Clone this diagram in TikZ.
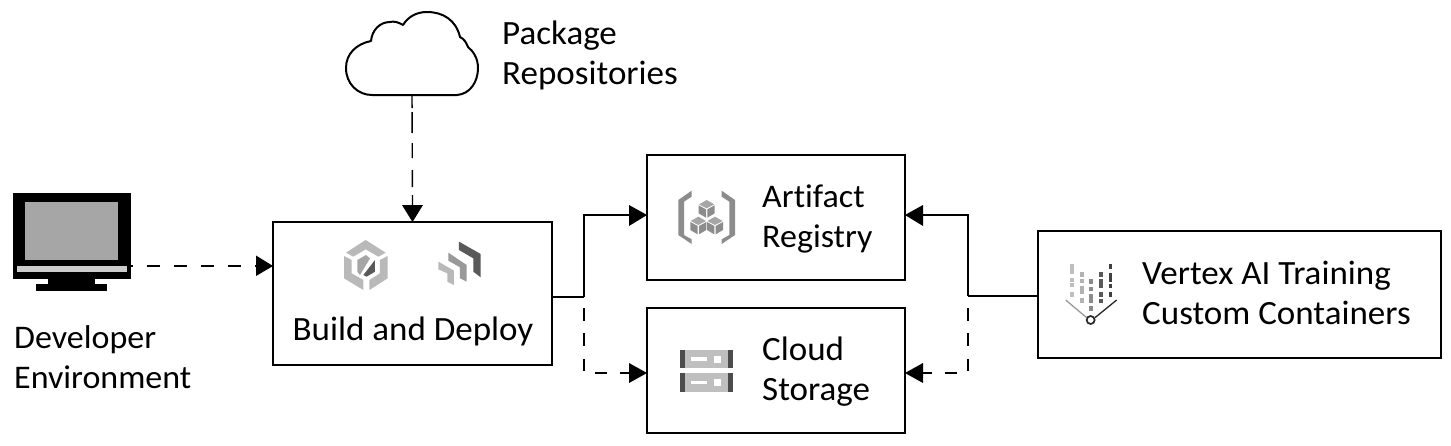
\documentclass[tikz,border=0pt]{standalone}
\usepackage{fontspec}
\setmainfont[Ligatures=NoCommon,FakeStretch=1.03]{Carlito}
\usetikzlibrary{arrows.meta}
\tikzset{
  x=1pt,y=-1pt,
  boxnode/.style={draw=black,line width=1.8pt,fill=white,minimum width=#1,inner sep=0pt},
  lab/.style={inner sep=0pt,align=left,anchor=west,font=\fontsize{34}{40}\selectfont},
  labsmall/.style={lab,font=\fontsize{33}{40}\selectfont},
  solidline/.style={line width=1.8pt},
  headfill/.style={fill=black},
  elbowdash/.style={line width=2pt,dash pattern=on 13pt off 12pt on 13pt off 13pt on 12pt off 13pt on 12pt off 13pt on 12pt},
  zoomed/.style={x=0.3333pt,y=-0.3333pt},
}
\begin{document}
\begin{tikzpicture}
\useasboundingbox (0,0) rectangle (1451,445);
% boxes
\node[boxnode=279pt,minimum height=143pt] (build) at (412.5,293.5) {};
\node[boxnode=258pt,minimum height=125pt] (artifact) at (776,217.5) {};
\node[boxnode=258pt,minimum height=125pt] (storage) at (776,370.5) {};
\node[boxnode=403pt,minimum height=127pt] (vertex) at (1239.5,294.5) {};
% cloud
\draw[line width=2pt,fill=white,line join=round] (372,95) -- (457,95)
  .. controls (470,94) and (478,82) .. (478,68)
  .. controls (478,58) and (473,51) .. (468,47)
  .. controls (466,42) and (464,39) .. (460,37)
  .. controls (456,20) and (443,12) .. (427,12)
  .. controls (416,12) and (408,17) .. (403,25)
  .. controls (398,22) and (394,21) .. (390,22)
  .. controls (380,22) and (372,30) .. (371,41)
  .. controls (356,44) and (346,54) .. (346,68)
  .. controls (346,84) and (358,95) .. (372,95) -- cycle;
\coordinate (cloudb) at (412,95);
% monitor
\fill[black] (13,193) rectangle (131,279);
\fill[black] (48,279) rectangle (95,285);
\fill[black] (36,284) rectangle (107,291);
\fill[gray!70!white] (25,202) rectangle (118,260);
\fill[gray!40!white] (17,266) rectangle (127,272);
\coordinate (mon) at (131,266);
% connector ends
\coordinate (bo) at (553,297);
\coordinate (vo) at (1038,296);
\coordinate (bt) at (412.5,222);
\coordinate (bl) at (273,266);
\coordinate (ai) at (647,215);
\coordinate (si) at (647,373);
\coordinate (ar) at (905,215);
\coordinate (sr) at (905,373);
\coordinate (le) at (584,297);
\coordinate (re) at (968,296);
\coordinate (lds) at (584,308);
\coordinate (rds) at (968,308);
% connectors
\draw[line width=1.4pt,dash pattern=on 13pt off 4pt on 21pt off 10pt on 15pt off 12pt on 17pt off 8pt on 10pt] (cloudb) -- (412.5,206);
\fill[headfill] (bt) -- (402,205) -- (423,205) -- cycle;
\draw[line width=2pt,dash pattern=on 13pt off 14pt,dash phase=11pt] (mon) -- (256,266);
\fill[headfill] (bl) -- (256,255.5) -- (256,276) -- cycle;
\draw[line width=1.4pt] (bo) -- (le);
\draw[solidline,line join=miter] (le) -- (584,215) -- (630,215);
\fill[headfill] (ai) -- (629,205) -- (629,226) -- cycle;
\draw[line width=1.4pt] (vo) -- (re);
\draw[solidline,line join=miter] (re) -- (968,215) -- (922,215);
\fill[headfill] (ar) -- (923,205) -- (923,226) -- cycle;
\draw[elbowdash] (lds) -- (584,373) -- (630,373);
\fill[headfill] (si) -- (629,363) -- (629,383) -- cycle;
\draw[elbowdash] (rds) -- (968,373) -- (922,373);
\fill[headfill] (sr) -- (923,363) -- (923,383) -- cycle;
% labels
\node[lab] (lrep) at (502,55) {Package\\Repositories};
\node[labsmall] (ldev) at (14,357) {Developer\\Environment};
\node[lab,anchor=center] (lbuild) at (413,331) {Build and Deploy};
\node[labsmall] (lart) at (762,219) {Artifact\\Registry};
\node[lab] (lsto) at (762,372) {Cloud\\Storage};
\node[lab] (lver) at (1142,293) {Vertex AI Training\\Custom Containers};
% build icons
\begin{scope}[shift={(320,230)},zoomed]
 \fill[gray!55!white] (137,30) -- (197,68) -- (175,80) -- (137,58) -- (100,80) -- (78,68) -- cycle;
 \fill[gray!55!white] (72,78) -- (95,90) -- (95,130) -- (130,150) -- (130,180) -- (72,145) -- cycle;
 \fill[gray!55!white] (203,78) -- (203,145) -- (148,180) -- (148,150) -- (180,130) -- (180,90) -- cycle;
 \fill[gray!70!white] (138,75) -- (150,85) -- (120,135) -- (112,125) -- (112,90) -- cycle;
 \fill[gray!70!black] (165,90) -- (165,125) -- (140,140) -- (130,135) -- cycle;
 \fill[gray!55!white] (355,95) -- (402,122) -- (402,165) -- (382,155) -- (382,130) -- (355,118) -- cycle;
 \fill[gray!80!white] (385,68) -- (440,105) -- (440,155) -- (420,145) -- (420,112) -- (385,92) -- cycle;
 \fill[gray!70!black] (417,35) -- (482,72) -- (482,142) -- (460,125) -- (460,85) -- (417,60) -- cycle;
\end{scope}
% artifact icon
\begin{scope}[shift={(660,170)},zoomed]
 \fill[gray!90!white] (95,62) -- (95,80) -- (72,95) -- (72,195) -- (95,208) -- (95,222) -- (55,195) -- (55,90) -- cycle;
 \fill[gray!90!white] (185,62) -- (185,80) -- (208,95) -- (208,195) -- (185,208) -- (185,222) -- (225,195) -- (225,90) -- cycle;
 \foreach \cx/\cy in {140/115,115/165,165/165}{
  \fill[gray!70!white] (\cx,\cy-25) -- (\cx+23,\cy-12) -- (\cx,\cy) -- (\cx-23,\cy-12) -- cycle;
  \fill[gray!90!white] (\cx-24,\cy-9) -- (\cx-2,\cy+3) -- (\cx-2,\cy+28) -- (\cx-24,\cy+15) -- cycle;
  \fill[gray!90!white] (\cx+24,\cy-9) -- (\cx+2,\cy+3) -- (\cx+2,\cy+28) -- (\cx+24,\cy+15) -- cycle;
 }
\end{scope}
% storage icon
\begin{scope}[shift={(660,330)},zoomed]
 \foreach \t/\off in {60/0,130/70}{
  \fill[gray!50!white] (60,\t) rectangle (218,\t+55);
  \fill[gray!60!black] (60,\t) rectangle (75,\t+55);
  \fill[gray!60!black] (203,\t) rectangle (218,\t+55);
  \fill[white] (92,\t+22) rectangle (140,\t+33);
  \fill[white] (162,\t+18) rectangle (183,\t+38);
 }
\end{scope}
% vertex icon
\begin{scope}[shift={(1050,250)},zoomed]
 \draw[gray!80!white,line width=1.3pt] (47,150) -- (110,203);
 \draw[gray!30!black,line width=1.3pt] (135,203) -- (200,150);
 \draw[black!85,line width=1.7pt] (122,210) circle (12);
 \foreach \a/\b in {42/72,85/97,100/112,125/140}{\fill[gray!50!white] (61,\a) rectangle (71,\b);}
 \foreach \a/\b in {65/80,87/100,108/133,145/160}{\fill[gray!60!white] (91,\a) rectangle (101,\b);}
 \foreach \a/\b in {88/102,110/124,132/160,168/184}{\fill[gray!90!white] (118,\a) rectangle (128,\b);}
 \foreach \a/\b in {65/80,87/115,125/140,148/160}{\fill[gray!70!black] (148,\a) rectangle (158,\b);}
 \foreach \a/\b in {42/58,68/95,103/115,125/140}{\fill[gray!50!black] (177,\a) rectangle (187,\b);}
\end{scope}
\end{tikzpicture}
\end{document}
